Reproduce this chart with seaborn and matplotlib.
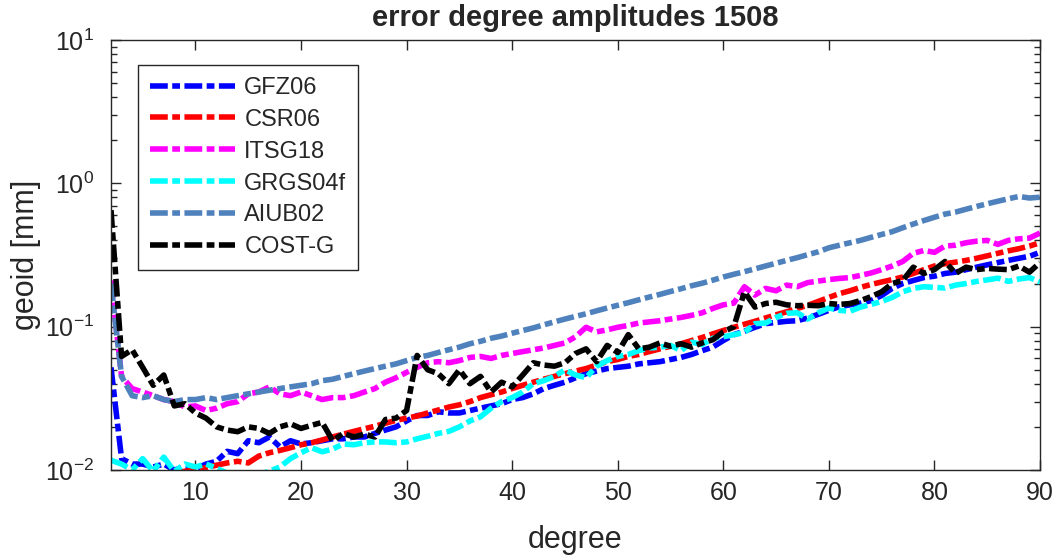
import numpy as np
import pandas as pd
import seaborn as sns
import matplotlib
matplotlib.use("Agg")
from matplotlib import pyplot as plt
from matplotlib.ticker import LogLocator, LogFormatterMathtext, NullFormatter

degree = list(range(2, 91))

gfz06 = [0.052, 0.012, 0.011, 0.011, 0.0105, 0.011, 0.0100, 0.0105, 0.0102, 0.011,
         0.0115, 0.0135, 0.013, 0.016, 0.0155, 0.017, 0.0145, 0.016, 0.0152, 0.0155,
         0.016, 0.0165, 0.0165, 0.017, 0.017, 0.018, 0.019, 0.020, 0.022, 0.024,
         0.024, 0.0255, 0.025, 0.025, 0.026, 0.027, 0.028, 0.029, 0.031, 0.032,
         0.034, 0.037, 0.039, 0.041, 0.044, 0.047, 0.049, 0.051, 0.052, 0.053,
         0.055, 0.056, 0.057, 0.059, 0.061, 0.064, 0.068, 0.072, 0.080, 0.088,
         0.093, 0.099, 0.105, 0.107, 0.109, 0.110, 0.115, 0.122, 0.130, 0.138,
         0.142, 0.146, 0.152, 0.165, 0.185, 0.20, 0.21, 0.22, 0.225, 0.235,
         0.24, 0.25, 0.26, 0.27, 0.28, 0.29, 0.30, 0.31, 0.33]

csr06 = [0.009, 0.0085, 0.009, 0.0088, 0.009, 0.0092, 0.0095, 0.0098, 0.0100, 0.0104,
         0.0108, 0.0112, 0.0115, 0.0112, 0.0125, 0.0132, 0.0137, 0.0143, 0.0150, 0.0155,
         0.0162, 0.0170, 0.0178, 0.0186, 0.0194, 0.0202, 0.0212, 0.0222, 0.0230, 0.0238,
         0.0250, 0.0262, 0.0275, 0.0285, 0.030, 0.032, 0.0335, 0.035, 0.037, 0.039,
         0.041, 0.043, 0.045, 0.047, 0.049, 0.051, 0.054, 0.057, 0.059, 0.062,
         0.064, 0.067, 0.070, 0.073, 0.076, 0.080, 0.084, 0.089, 0.094, 0.099,
         0.104, 0.109, 0.115, 0.121, 0.127, 0.134, 0.141, 0.150, 0.160, 0.170,
         0.178, 0.188, 0.197, 0.205, 0.213, 0.222, 0.235, 0.250, 0.265, 0.275,
         0.282, 0.290, 0.300, 0.312, 0.325, 0.338, 0.350, 0.365, 0.385]

itsg18 = [0.21, 0.045, 0.037, 0.035, 0.033, 0.031, 0.030, 0.0275, 0.028, 0.026,
          0.027, 0.029, 0.030, 0.034, 0.035, 0.038, 0.034, 0.033, 0.035, 0.033,
          0.031, 0.032, 0.032, 0.033, 0.035, 0.037, 0.041, 0.044, 0.048, 0.052,
          0.056, 0.057, 0.056, 0.058, 0.061, 0.062, 0.060, 0.063, 0.065, 0.067,
          0.069, 0.071, 0.074, 0.077, 0.085, 0.099, 0.092, 0.095, 0.099, 0.102,
          0.106, 0.108, 0.110, 0.113, 0.116, 0.120, 0.125, 0.134, 0.142, 0.146,
          0.19, 0.166, 0.185, 0.178, 0.195, 0.190, 0.203, 0.208, 0.213, 0.217,
          0.220, 0.228, 0.237, 0.250, 0.265, 0.285, 0.325, 0.340, 0.330, 0.365,
          0.370, 0.385, 0.395, 0.400, 0.375, 0.400, 0.410, 0.415, 0.450]

grgs04f = [0.0117, 0.011, 0.0100, 0.012, 0.0098, 0.0123, 0.0098, 0.011, 0.0105, 0.011,
           0.0103, 0.0095, 0.0092, 0.0090, 0.0093, 0.0098, 0.0105, 0.0120, 0.0132, 0.0143,
           0.0134, 0.0140, 0.0152, 0.0150, 0.0155, 0.0157, 0.0157, 0.0155, 0.0157, 0.0165,
           0.0172, 0.0180, 0.0186, 0.020, 0.022, 0.0235, 0.027, 0.030, 0.032, 0.035,
           0.040, 0.042, 0.045, 0.050, 0.046, 0.044, 0.053, 0.058, 0.062, 0.064,
           0.068, 0.071, 0.072, 0.074, 0.068, 0.078, 0.075, 0.083, 0.085, 0.088,
           0.091, 0.105, 0.106, 0.116, 0.124, 0.125, 0.113, 0.125, 0.135, 0.130,
           0.128, 0.137, 0.143, 0.150, 0.160, 0.175, 0.185, 0.190, 0.188, 0.186,
           0.195, 0.200, 0.207, 0.212, 0.218, 0.207, 0.215, 0.220, 0.205]

aiub02 = [0.20, 0.045, 0.033, 0.032, 0.033, 0.031, 0.030, 0.031, 0.031, 0.032,
          0.031, 0.032, 0.033, 0.034, 0.035, 0.036, 0.037, 0.038, 0.039, 0.040,
          0.042, 0.043, 0.045, 0.047, 0.049, 0.051, 0.053, 0.055, 0.058, 0.061,
          0.063, 0.066, 0.069, 0.072, 0.076, 0.079, 0.083, 0.086, 0.090, 0.094,
          0.098, 0.103, 0.108, 0.113, 0.118, 0.123, 0.129, 0.135, 0.141, 0.147,
          0.154, 0.161, 0.168, 0.176, 0.184, 0.193, 0.201, 0.211, 0.222, 0.232,
          0.242, 0.253, 0.265, 0.277, 0.290, 0.303, 0.318, 0.333, 0.355, 0.370,
          0.385, 0.40, 0.42, 0.44, 0.46, 0.49, 0.52, 0.55, 0.58, 0.61,
          0.63, 0.66, 0.69, 0.72, 0.75, 0.78, 0.81, 0.79, 0.80]

costg = [0.65, 0.062, 0.069, 0.052, 0.039, 0.046, 0.028, 0.029, 0.025, 0.023,
         0.020, 0.019, 0.0185, 0.020, 0.0195, 0.018, 0.020, 0.021, 0.0195, 0.0205,
         0.0215, 0.0160, 0.0180, 0.0170, 0.0178, 0.0170, 0.0225, 0.0230, 0.0260, 0.063,
         0.050, 0.047, 0.040, 0.050, 0.040, 0.045, 0.035, 0.041, 0.038, 0.046,
         0.056, 0.054, 0.053, 0.056, 0.065, 0.070, 0.057, 0.074, 0.066, 0.088,
         0.070, 0.072, 0.077, 0.073, 0.076, 0.072, 0.077, 0.081, 0.092, 0.100,
         0.175, 0.137, 0.145, 0.148, 0.142, 0.140, 0.141, 0.140, 0.145, 0.143,
         0.145, 0.152, 0.162, 0.175, 0.200, 0.210, 0.260, 0.235, 0.250, 0.285,
         0.235, 0.260, 0.250, 0.255, 0.252, 0.250, 0.265, 0.240, 0.280]

names = ["GFZ06", "CSR06", "ITSG18", "GRGS04f", "AIUB02", "COST-G"]
colors = ["#0000ff", "#ff0000", "#ff00ff", "#00ffff", "#4f81bd", "#000000"]

df = pd.DataFrame({"degree": degree * 6,
                   "geoid": gfz06 + csr06 + itsg18 + grgs04f + aiub02 + costg,
                   "solution": [n for n in names for _ in degree]})

sns.set_style("ticks")
plt.rcParams["font.family"] = ["Liberation Sans", "DejaVu Sans"]
plt.rcParams["mathtext.fontset"] = "custom"
plt.rcParams["mathtext.rm"] = "Liberation Sans"
plt.rcParams["mathtext.it"] = "Liberation Sans:italic"
plt.rcParams["mathtext.bf"] = "Liberation Sans:bold"
dark = "#262626"

fig = plt.figure(figsize=(10.56, 5.56), dpi=100)
ax = fig.add_axes([111 / 1056, 1 - 470 / 556, 929 / 1056, 430 / 556])

lw = 4.0
dash = (3.2, 0.8, 1.4, 0.8)  # matlab-like '-.'
sns.lineplot(data=df, x="degree", y="geoid", hue="solution", style="solution",
             hue_order=names, style_order=names, palette=dict(zip(names, colors)),
             dashes={n: dash for n in names}, linewidth=lw, ax=ax)

ax.set_yscale("log")
ax.set_xlim(2, 90)
ax.set_ylim(0.01, 10)
ax.set_xticks(range(10, 91, 10))
ax.yaxis.set_major_locator(LogLocator(base=10, numticks=10))
ax.yaxis.set_major_formatter(LogFormatterMathtext())
ax.yaxis.set_minor_locator(LogLocator(base=10, subs=np.arange(2, 10), numticks=20))
ax.yaxis.set_minor_formatter(NullFormatter())
ax.tick_params(which="both", direction="in", top=True, right=True, color=dark,
               labelcolor=dark, labelsize=18)
ax.tick_params(which="major", length=7, width=1)
ax.tick_params(which="minor", length=4, width=1)
ax.tick_params(axis="x", pad=8)
ax.tick_params(axis="y", pad=12)
for s in ax.spines.values():
    s.set_color(dark)
    s.set_linewidth(1)

ax.set_xlabel("degree", fontsize=22, color=dark, labelpad=14)
ax.set_ylabel("geoid [mm]", fontsize=22, color=dark, labelpad=3)
ax.set_title("error degree amplitudes 1508", fontsize=21, fontweight="bold", pad=10)

leg = ax.legend(loc="upper left", bbox_to_anchor=(27 / 929, 1 - 25 / 430), fontsize=17,
                frameon=True, fancybox=False, edgecolor=dark, framealpha=1,
                handlelength=3.6, handletextpad=0.4, borderpad=0.5, labelspacing=0.42,
                borderaxespad=0)
leg.get_frame().set_linewidth(1)
for line in leg.get_lines():
    line.set_linewidth(lw)

fig.savefig("out.png", dpi=100)
